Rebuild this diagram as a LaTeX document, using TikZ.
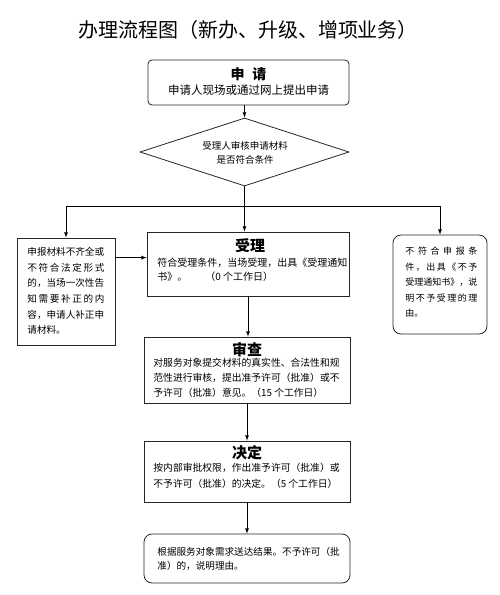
\documentclass[tikz,border=0pt]{standalone}
\usepackage{fontspec}
\setmainfont{Noto Sans CJK SC}
\usepackage{tikz}
\usetikzlibrary{shapes.geometric}

\newcommand{\jline}[2]{\makebox[#1][s]{\spaceskip=0pt plus 1fil\xspaceskip=0pt plus 1fil\relax #2}}

\begin{document}
\begin{tikzpicture}[x=1pt, y=-1pt, thick, >=latex,
  box/.style={draw=black!85, thick, inner sep=0pt},
  head/.style={inner sep=0pt, font=\fontsize{15}{15}\bfseries\selectfont},
  txt/.style={inner sep=0pt, align=left, font=\fontsize{9.8}{15}\selectfont}]
  \useasboundingbox (0,0) rectangle (500,595);

  \node[inner sep=0pt, font=\fontsize{20}{20}\selectfont] (title) at (248,30) {办理流程图（新办、升级、增项业务）};

  \node[box, rounded corners=4pt, minimum width=201pt, minimum height=45pt] (apply) at (248.5,82.5) {};
  \node[inner sep=0pt, font=\fontsize{14}{14}\bfseries\selectfont] (applyhead) at (248.5,74) {申\hspace{8pt}请};
  \node[inner sep=0pt, font=\fontsize{11.5}{11.5}\selectfont] (applytext) at (248.5,90) {申请人现场或通过网上提出申请};

  \node[box, diamond, minimum width=209pt, minimum height=68pt] (check) at (244.5,152) {};
  \node[txt, align=center, font=\fontsize{9.5}{14.5}\selectfont] (checktext) at (245,153) {受理人审核申请材料\\是否符合条件};
  \coordinate (split) at (244.5,206);

  % three outcomes
  \node[box, minimum width=98pt, minimum height=107pt] (fix) at (66,291.5) {};
  \node[txt, anchor=west, font=\fontsize{9.6}{15.7}\selectfont] (fixtext) at (27,291) {申报材料不齐全或\\
    \jline{77pt}{不 符 合 法 定 形 式}\\的，当场一次性告\\\jline{77pt}{知 需 要 补 正 的 内}\\
    容，申请人补正申\\请材料。};

  \node[box, minimum width=202pt, minimum height=64pt] (accept) at (248,264) {};
  \node[head] (accepthead) at (250,246) {受理};
  \node[txt, anchor=west, font=\fontsize{10}{14}\selectfont] (accepttext) at (157,270) {符合受理条件，当场受理，出具《受理通知\\书》。\hspace{1.8em}（0 个工作日）};

  \node[box, rounded corners=8pt, minimum width=94pt, minimum height=99pt] (reject) at (440,284.5) {};
  \node[txt, anchor=west, font=\fontsize{9}{15.5}\selectfont] (rejecttext) at (405,282.5) {\jline{72pt}{不 符 合 申 报 条}\\
    \jline{72pt}{件 ， 出 具 《 不 予}\\受理通知书》，说\\\jline{72pt}{明 不 予 受 理 的 理}\\由。};

  \node[box, minimum width=206pt, minimum height=66pt] (review) at (247,370) {};
  \node[head] (reviewhead) at (247,350) {审查};
  \node[txt, anchor=west] (reviewtext) at (153,378) {对服务对象提交材料的真实性、合法性和规\\范性进行审核，提出准予许可（批准）或不\\予许可（批准）意见。（15 个工作日）};

  \node[box, minimum width=206pt, minimum height=61pt] (decide) at (247,471.5) {};
  \node[head] (decidehead) at (247,453) {决定};
  \node[txt, anchor=west, font=\fontsize{9.8}{15.5}\selectfont] (decidetext) at (153,476) {按内部审批权限，作出准予许可（批准）或\\不予许可（批准）的决定。（5 个工作日）};

  \node[box, rounded corners=8pt, minimum width=206pt, minimum height=49pt] (result) at (247,558.5) {};
  \node[txt, anchor=west, font=\fontsize{9.6}{14}\selectfont] (resulttext) at (157,558.5) {根据服务对象需求送达结果。不予许可（批\\准）的，说明理由。};

  \draw[->] (apply.south -| check.north) -- (check.north);
  \draw (check.south) -- (split);
  \draw[->] (split) -| (fix.north);
  \draw[->] (split) -| (reject.north);
  \draw[->] (split) -- (split |- accept.north);
  \draw[->] ([yshift=-20pt]fix.north east) -- ([yshift=-20pt]fix.north east -| accept.west);
  \draw[->] (accept.south) -- (accept.south |- review.north);
  \draw[->] (review.south) -- (review.south |- decide.north);
  \draw[->] (decide.south) -- (decide.south |- result.north);
\end{tikzpicture}
\end{document}
